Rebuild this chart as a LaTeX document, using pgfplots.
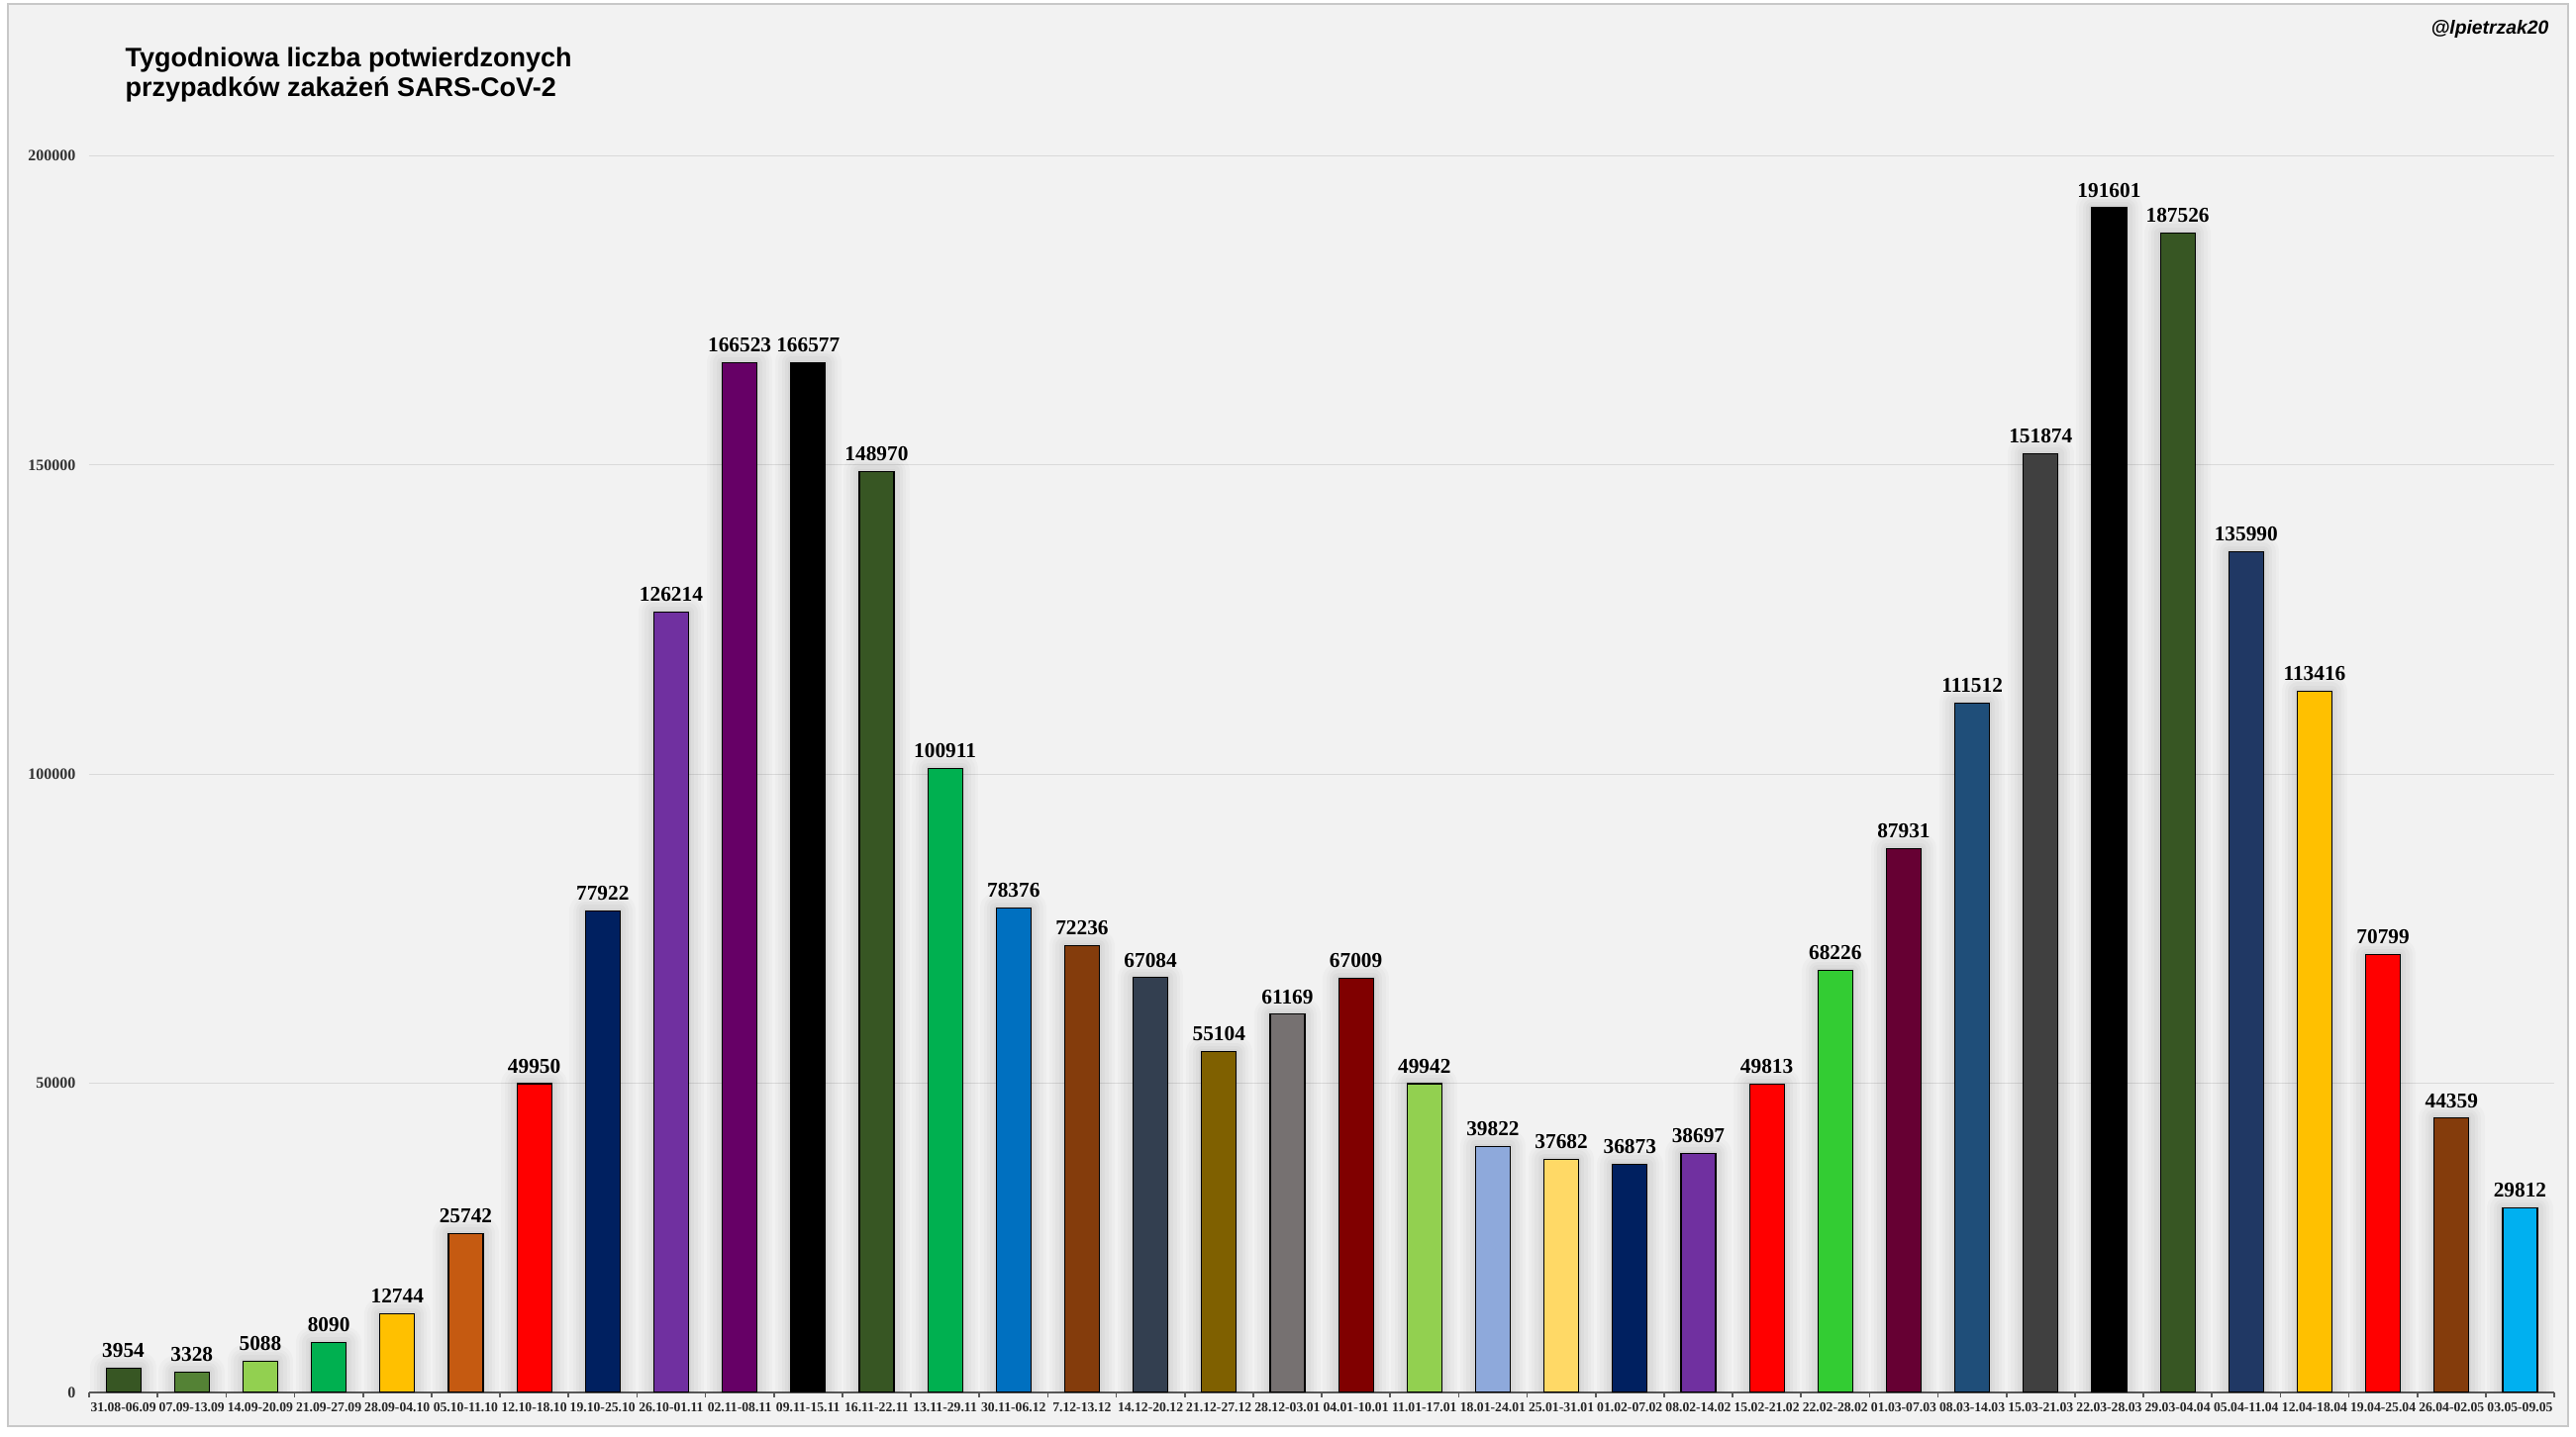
\documentclass[border=0pt]{standalone}
\usepackage{pgfplots}
\pgfplotsset{compat=1.18}
\usepackage{pgfplotstable}
\usepackage{fontspec}
\setmainfont{Liberation Serif}
\newfontfamily\sansfont{Liberation Sans}

\definecolor{c0}{HTML}{375623}
\definecolor{c1}{HTML}{548235}
\definecolor{c2}{HTML}{92D050}
\definecolor{c3}{HTML}{00B050}
\definecolor{c4}{HTML}{FFC000}
\definecolor{c5}{HTML}{C55A11}
\definecolor{c6}{HTML}{FF0000}
\definecolor{c7}{HTML}{002060}
\definecolor{c8}{HTML}{7030A0}
\definecolor{c9}{HTML}{660066}
\definecolor{c10}{HTML}{000000}
\definecolor{c11}{HTML}{375623}
\definecolor{c12}{HTML}{00B050}
\definecolor{c13}{HTML}{0070C0}
\definecolor{c14}{HTML}{843C0C}
\definecolor{c15}{HTML}{333F50}
\definecolor{c16}{HTML}{7F6000}
\definecolor{c17}{HTML}{767171}
\definecolor{c18}{HTML}{800000}
\definecolor{c19}{HTML}{92D050}
\definecolor{c20}{HTML}{8EA9DB}
\definecolor{c21}{HTML}{FFD966}
\definecolor{c22}{HTML}{002060}
\definecolor{c23}{HTML}{7030A0}
\definecolor{c24}{HTML}{FF0000}
\definecolor{c25}{HTML}{33CC33}
\definecolor{c26}{HTML}{660033}
\definecolor{c27}{HTML}{1F4E79}
\definecolor{c28}{HTML}{404040}
\definecolor{c29}{HTML}{000000}
\definecolor{c30}{HTML}{375623}
\definecolor{c31}{HTML}{203864}
\definecolor{c32}{HTML}{FFC000}
\definecolor{c33}{HTML}{FF0000}
\definecolor{c34}{HTML}{843C0C}
\definecolor{c35}{HTML}{00B0F0}
\definecolor{axisgray}{HTML}{595959}
\definecolor{bggray}{HTML}{F2F2F2}
\definecolor{framegray}{HTML}{C8C8C8}
\definecolor{gridgray}{HTML}{D9D9D9}

\pgfplotstableread{
x y
0 3954
1 3328
2 5088
3 8090
4 12744
5 25742
6 49950
7 77922
8 126214
9 166523
10 166577
11 148970
12 100911
13 78376
14 72236
15 67084
16 55104
17 61169
18 67009
19 49942
20 39822
21 37682
22 36873
23 38697
24 49813
25 68226
26 87931
27 111512
28 151874
29 191601
30 187526
31 135990
32 113416
33 70799
34 44359
35 29812
}\weekly

\begin{document}
\begin{tikzpicture}
\useasboundingbox (0,0) rectangle (780.6pt,435.6pt);
\fill[white] (0,0) rectangle (780.6pt,435.6pt);
\draw[framegray, fill=bggray, line width=0.45pt] (2.4pt,3.3pt) rectangle (778.2pt,434.4pt);
\begin{axis}[
  at={(27pt,13.5pt)}, anchor=south west,
  scale only axis, width=747pt, height=402.96pt,
  xmin=-0.5, xmax=35.5, ymin=0, ymax=215000,
  axis x line=bottom, axis y line=left,
  x axis line style={-, draw=axisgray, line width=0.6pt},
  y axis line style={draw=none},
  xtick={0,...,35},
  xticklabels={31.08-06.09,07.09-13.09,14.09-20.09,21.09-27.09,28.09-04.10,05.10-11.10,12.10-18.10,19.10-25.10,26.10-01.11,02.11-08.11,09.11-15.11,16.11-22.11,13.11-29.11,30.11-06.12,7.12-13.12,14.12-20.12,21.12-27.12,28.12-03.01,04.01-10.01,11.01-17.01,18.01-24.01,25.01-31.01,01.02-07.02,08.02-14.02,15.02-21.02,22.02-28.02,01.03-07.03,08.03-14.03,15.03-21.03,22.03-28.03,29.03-04.04,05.04-11.04,12.04-18.04,19.04-25.04,26.04-02.05,03.05-09.05},
  minor xtick={-0.5,0.5,...,35.5},
  major tick length=0pt,
  minor tick length=1.5pt,
  tick align=outside,
  minor tick style={draw=axisgray, line width=0.5pt},
  ytick={0,50000,100000,150000,200000},
  ymajorgrids,
  grid style={draw=gridgray, line width=0.3pt},
  scaled y ticks=false,
  /pgf/number format/assume math mode=true,
  yticklabel style={/pgf/number format/fixed, /pgf/number format/1000 sep={}, font=\bfseries\fontsize{4.8pt}{5pt}\selectfont, text=black!80, inner sep=0pt, xshift=-3.9pt},
  xticklabel style={font=\bfseries\fontsize{4.1pt}{5pt}\selectfont, text=black!85, inner sep=0pt, yshift=-3pt},
  ybar, bar width=10.5pt,
]
\addplot[bar shift=0pt, draw=black, draw opacity=0.018, line width=9.5pt, fill=none, line join=round] table[x=x,y=y]{\weekly};
\addplot[bar shift=0pt, draw=black, draw opacity=0.02, line width=7.5pt, fill=none, line join=round] table[x=x,y=y]{\weekly};
\addplot[bar shift=0pt, draw=black, draw opacity=0.022, line width=5.5pt, fill=none, line join=round] table[x=x,y=y]{\weekly};
\addplot[bar shift=0pt, draw=black, draw opacity=0.025, line width=3.5pt, fill=none, line join=round] table[x=x,y=y]{\weekly};
\addplot[bar shift=0pt, draw=black, draw opacity=0.03, line width=1.5pt, fill=none, line join=round] table[x=x,y=y]{\weekly};
\pgfplotsinvokeforeach{0,...,35}{
  \addplot[bar shift=0pt, fill=c#1, draw=black, line width=0.35pt,
    restrict x to domain=#1:#1,
    point meta=explicit symbolic,
    nodes near coords,
    every node near coord/.append style={font=\bfseries\fontsize{6.4pt}{7pt}\selectfont, text=black, inner sep=0pt, yshift=3pt, anchor=south}]
    table[x=x, y=y, meta=y]{\weekly};
}
\end{axis}
\node[anchor=base west, inner sep=0pt, font=\sansfont\bfseries\fontsize{8.1pt}{9pt}\selectfont] at (37.8pt,415.2pt) {Tygodniowa liczba potwierdzonych};
\node[anchor=base west, inner sep=0pt, font=\sansfont\bfseries\fontsize{8.1pt}{9pt}\selectfont] at (37.8pt,406.2pt) {przypadków zakażeń SARS-CoV-2};
\node[anchor=base east, inner sep=0pt, font=\sansfont\bfseries\itshape\fontsize{5.8pt}{6pt}\selectfont] at (772.5pt,425.1pt) {@lpietrzak20};
\end{tikzpicture}
\end{document}
